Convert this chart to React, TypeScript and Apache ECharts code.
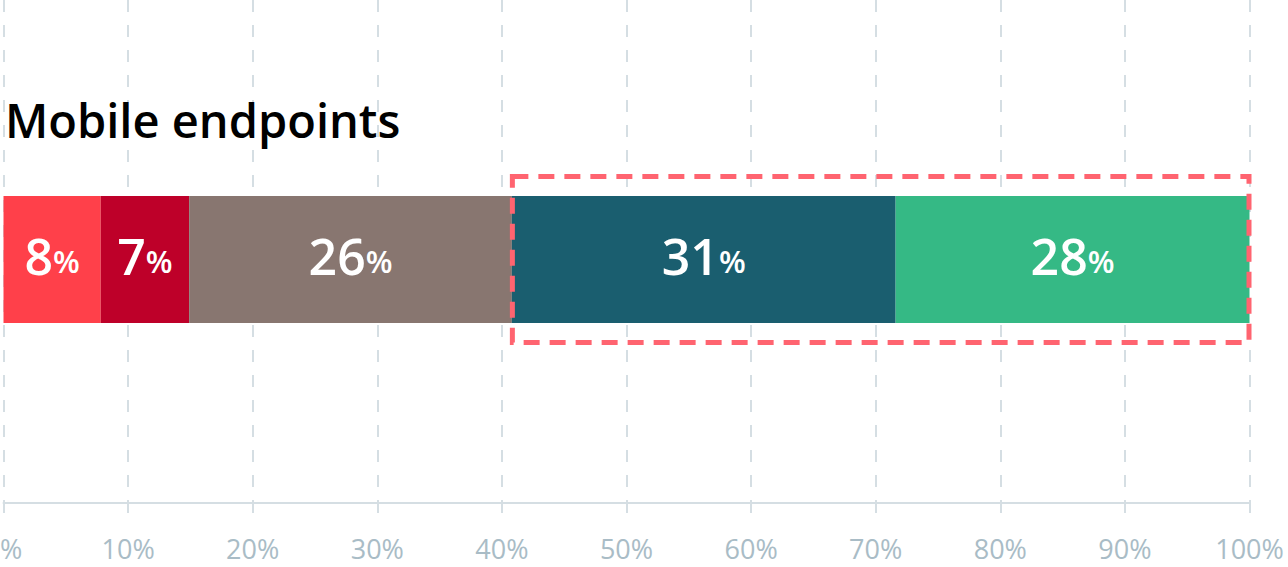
import React, { useEffect, useRef } from "react";
import * as echarts from "echarts";

const categories = ["Mobile endpoints"];
const segmentNames = ["Segment A", "Segment B", "Segment C", "Segment D", "Segment E"];
const segmentValues = [7.8, 7.1, 25.9, 30.8, 28.4];
const segmentColors = ["#ff404a", "#be0029", "#887670", "#1a5e6f", "#35b985"];
const xTicks = [0, 10, 20, 30, 40, 50, 60, 70, 80, 90, 100];
const highlightFrom = 3; // index of first highlighted segment

const FONT = "Open Sans";
const GRID_LEFT = 3.5;
const GRID_RIGHT = 38.5;
const BAR_TOP = 196;
const BAR_BOTTOM = 567 - 323;
const BOX_PAD = 19.5;

export default function App() {
  const ref = useRef<HTMLDivElement>(null);
  useEffect(() => {
    if (!ref.current) return;
    const chart = echarts.init(ref.current, undefined, { renderer: "svg" });
    const series = segmentValues.map((v, i) => ({
      name: segmentNames[i],
      type: "bar",
      stack: "total",
      xAxisIndex: 1,
      yAxisIndex: 1,
      barWidth: "100%",
      data: [v],
      itemStyle: { color: segmentColors[i] },
      label: {
        show: true,
        position: "inside",
        offset: [0, -4],
        formatter: () => `{n|${Math.round(v)}}{p|%}`,
        rich: {
          n: { fontFamily: FONT, fontWeight: 600, fontSize: 50, color: "#ffffff" },
          p: { fontFamily: FONT, fontWeight: 600, fontSize: 31, color: "#ffffff", padding: [10, 0, 0, 0] },
        },
      },
    }));
    chart.setOption({
      animation: false,
      grid: [
        { left: GRID_LEFT, right: GRID_RIGHT, top: 0, bottom: 64, outerBoundsMode: "none", containLabel: false },
        { left: GRID_LEFT, right: GRID_RIGHT, top: BAR_TOP, bottom: BAR_BOTTOM, outerBoundsMode: "none", containLabel: false },
      ],
      xAxis: [
        {
          type: "value",
          gridIndex: 0,
          min: xTicks[0],
          max: xTicks[xTicks.length - 1],
          interval: 10,
          axisLine: { show: true, lineStyle: { color: "#d5dee3", width: 2 } },
          axisTick: { show: true, length: 10, lineStyle: { color: "#d5dee3", width: 2 } },
          splitLine: { show: true, lineStyle: { color: "#d5dee3", width: 2, type: [12, 13] } },
          axisLabel: {
            formatter: "{value}%",
            fontFamily: FONT,
            fontSize: 27,
            color: "#a9bcc6",
            margin: 32,
          },
        },
        {
          type: "value",
          gridIndex: 1,
          min: xTicks[0],
          max: xTicks[xTicks.length - 1],
          show: false,
        },
      ],
      yAxis: [
        { type: "category", gridIndex: 0, data: categories, show: false },
        { type: "category", gridIndex: 1, data: categories, show: false },
      ],
      series,
    });

    const start = segmentValues.slice(0, highlightFrom).reduce((a, b) => a + b, 0);
    const end = segmentValues.reduce((a, b) => a + b, 0);
    const x0 = chart.convertToPixel({ xAxisIndex: 1 }, start) as number;
    const x1 = chart.convertToPixel({ xAxisIndex: 1 }, end) as number;
    const yc = chart.convertToPixel({ yAxisIndex: 1 }, categories[0]) as number;
    const half = (567 - BAR_BOTTOM - BAR_TOP) / 2;
    chart.setOption({
      graphic: [
        {
          type: "text",
          x: 5,
          y: 120,
          style: {
            text: categories[0],
            fontFamily: FONT,
            fontSize: 47,
            fontWeight: 600,
            fill: "#000000",
            verticalAlign: "middle",
          },
        },
        {
          type: "rect",
          shape: { x: x0 + 0.5, y: yc - half - BOX_PAD, width: x1 - x0 - 1, height: 2 * (half + BOX_PAD) },
          style: { fill: "none", stroke: "#ff6470", lineWidth: 5, lineDash: [16, 10] },
          z: 100,
        },
      ],
    });
    return () => chart.dispose();
  }, []);
  return (
    <div
      ref={ref}
      style={{ position: "absolute", left: 0, top: 0, width: 1288, height: 567 }}
    />
  );
}
